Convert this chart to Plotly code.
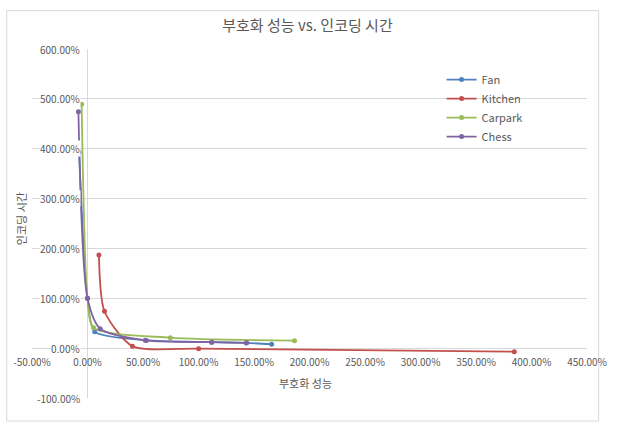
import plotly.graph_objects as go

# Encoding performance (x, %) vs. encoding time (y, %) per sequence
fan_x = [-7.6, 0.0, 6.5, 52.0, 112.0, 143.0, 165.9]
fan_y = [393.0, 100.0, 33.0, 16.0, 12.0, 10.5, 8.0]

kitchen_x = [10.3, 15.3, 40.5, 100.1, 384.5]
kitchen_y = [187.0, 74.0, 4.0, -1.0, -7.0]

carpark_x = [-5.3, 0.0, 5.5, 74.6, 186.5]
carpark_y = [489.0, 100.0, 41.0, 21.0, 15.0]

chess_x = [-8.2, 0.0, 11.4, 53.0, 111.8, 143.4]
chess_y = [474.0, 100.0, 39.0, 15.5, 12.0, 10.6]

x_ticks = [-50, 0, 50, 100, 150, 200, 250, 300, 350, 400, 450]
y_ticks = [-100, 0, 100, 200, 300, 400, 500, 600]

FONT = "Noto Sans CJK KR"
TEXT = "#595959"
GRID = "#d9d9d9"

series = [
    ("Fan", fan_x, fan_y, "#4F81BD"),
    ("Kitchen", kitchen_x, kitchen_y, "#C0504D"),
    ("Carpark", carpark_x, carpark_y, "#9BBB59"),
    ("Chess", chess_x, chess_y, "#8064A2"),
]

fig = go.Figure()
for name, xs, ys, color in series:
    fig.add_trace(go.Scatter(
        x=xs, y=ys, name=name, mode="lines+markers",
        line=dict(color=color, width=1.8, shape="spline", smoothing=0.7),
        marker=dict(color=color, size=5),
    ))

# y tick labels sit beside the vertical axis at x = 0
annotations = []
for v in y_ticks:
    annotations.append(dict(
        x=0, y=v, xref="x", yref="y", text=f"{v:.2f}%", showarrow=False,
        xanchor="right", yanchor="middle", xshift=-7, bgcolor="white",
        borderpad=0, font=dict(family=FONT, size=10, color=TEXT),
    ))
annotations.append(dict(
    x=0.493, y=0.044, xref="paper", yref="paper", text="부호화 성능",
    showarrow=False, xanchor="center", yanchor="middle",
    font=dict(family=FONT, size=11, color=TEXT),
))
annotations.append(dict(
    x=-0.020, y=0.515, xref="paper", yref="paper", text="인코딩 시간",
    showarrow=False, textangle=-90, xanchor="center", yanchor="middle",
    font=dict(family=FONT, size=11, color=TEXT),
))

fig.update_layout(
    width=619, height=423,
    margin=dict(l=32, r=18, t=49, b=25),
    paper_bgcolor="white", plot_bgcolor="white",
    font=dict(family=FONT, color=TEXT),
    title=dict(text="부호화 성능 vs. 인코딩 시간", x=0.4964, xref="paper",
               xanchor="center", y=0.939, yanchor="middle",
               font=dict(family=FONT, size=15, color=TEXT)),
    xaxis=dict(range=[-50, 450], tickvals=x_ticks,
               ticktext=[f"{v:.2f}%" for v in x_ticks],
               showgrid=False, showline=False,
               zeroline=True, zerolinecolor=GRID, zerolinewidth=1,
               anchor="free", position=1 / 7, ticks="",
               ticklabelstandoff=7, ticklabeloverflow="allow",
               tickfont=dict(family=FONT, size=10, color=TEXT)),
    yaxis=dict(range=[-100, 600], tickvals=y_ticks, showticklabels=False,
               showgrid=True, gridcolor=GRID, gridwidth=1,
               zeroline=True, zerolinecolor=GRID, zerolinewidth=1,
               showline=False, ticks=""),
    legend=dict(x=0.738, y=0.954, xanchor="left", yanchor="top",
                bgcolor="rgba(0,0,0,0)",
                font=dict(family=FONT, size=11, color=TEXT),
                tracegroupgap=0),
    annotations=annotations,
    shapes=[dict(type="rect", xref="paper", yref="paper",
                 x0=-0.0455, x1=1.021, y0=-0.066, y1=1.11,
                 line=dict(color=GRID, width=1), fillcolor="rgba(0,0,0,0)",
                 layer="below")],
    showlegend=True,
)

fig.write_html("out.html")
